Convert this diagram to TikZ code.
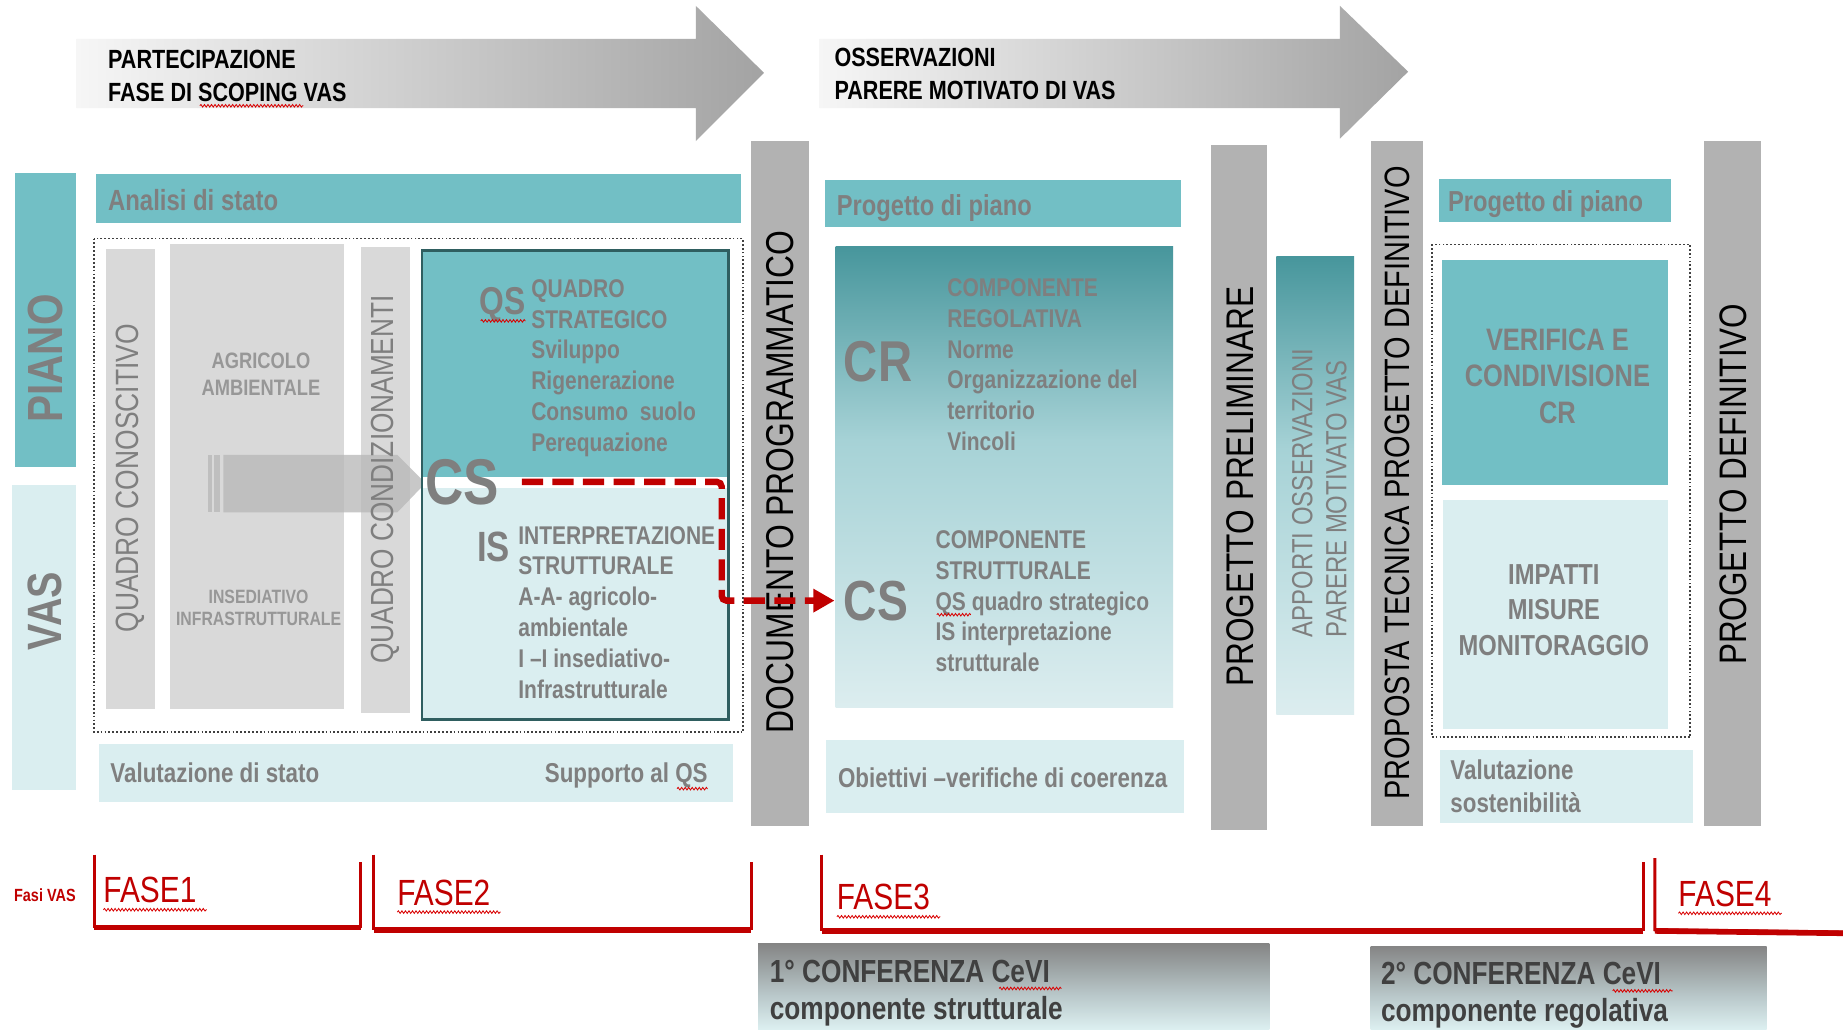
\documentclass[tikz,border=0pt]{standalone}
\usepackage{fontspec}
\setmainfont{Liberation Sans}
\newfontfamily\nfam[FakeStretch=0.82]{Liberation Sans}
\usetikzlibrary{decorations.pathmorphing,arrows.meta}
\definecolor{teal1}{HTML}{72BFC5}
\definecolor{lightc}{HTML}{DAEEF0}
\definecolor{colgray}{HTML}{B2B2B2}
\definecolor{lcol}{HTML}{D9D9D9}
\definecolor{tgray}{HTML}{7F7F7F}
\definecolor{agr}{HTML}{979797}
\definecolor{redc}{HTML}{C00000}
\definecolor{bord}{HTML}{2F5E60}
\definecolor{gtop}{HTML}{47969C}
\definecolor{gmid}{HTML}{A6D2D6}
\definecolor{gbot}{HTML}{DCEDEF}
\definecolor{ctop}{HTML}{858585}
\definecolor{cmid}{HTML}{B9C8CA}
\definecolor{cbot}{HTML}{DDF0F1}
\definecolor{darkt}{HTML}{404040}
\definecolor{arl}{HTML}{F6F6F6}
\definecolor{arr}{HTML}{A3A3A3}
\definecolor{bigar}{HTML}{B7B7B7}
\pgfdeclareverticalshading{tealgrad}{100bp}{color(0bp)=(gbot); color(25bp)=(gbot); color(54bp)=(gmid); color(75bp)=(gtop); color(100bp)=(gtop)}
\pgfdeclareverticalshading{confgrad}{100bp}{color(0bp)=(cbot); color(25bp)=(cbot); color(45bp)=(cmid); color(75bp)=(ctop); color(100bp)=(ctop)}
\tikzset{
  txt/.style={inner sep=0pt, outer sep=0pt, text=tgray},
  bl/.style={txt, anchor=base west},
  nb/.style={font={\nfam\bfseries\fontsize{#1}{#1}\selectfont}},
  nr/.style={font={\nfam\fontsize{#1}{#1}\selectfont}},
  nbl/.style n args={2}{font={\nfam\bfseries\fontsize{#1}{#2}\selectfont}},
  dotbox/.style={draw=black!75, line width=0.75pt, dash pattern=on 0.75pt off 0.9pt},
  sq/.style={draw=red!85!black, line width=0.35pt, decorate, decoration={snake, amplitude=0.55pt, segment length=1.5pt}},
  redbr/.style={draw=redc, line width=1.3pt},
}
\begin{document}
\begin{tikzpicture}[x=0.5pt,y=-0.5pt]
\useasboundingbox (0,0) rectangle (1568,876);
\fill[white] (0,0) rectangle (1568,876);
% top arrows
\shade[left color=arl, right color=arr] (65,33) -- (592,33) -- (592,5) -- (650,62) -- (592,120) -- (592,92) -- (65,92) -- cycle;
\shade[left color=arl, right color=arr] (697,33) -- (1140,33) -- (1140,5) -- (1198,61) -- (1140,118) -- (1140,92) -- (697,92) -- cycle;
\node[bl, text=black, nb=11.2] (part) at (92,58) {PARTECIPAZIONE};
\node[bl, text=black, nb=11.2] (scop) at (92,86) {FASE DI SCOPING VAS};
\draw[sq] (170,90) -- (258,90);
\node[bl, text=black, nb=11.2] (oss) at (710,57) {OSSERVAZIONI};
\node[bl, text=black, nb=11.2] (par) at (710,85) {PARERE MOTIVATO DI VAS};
% left PIANO / VAS
\fill[teal1] (13,147) rectangle (65,397);
\fill[lightc] (10,413) rectangle (65,672);
\node[txt, rotate=90, nb=21] (piano) at (39,305) {PIANO};
\node[txt, rotate=90, nb=20.5] (vas) at (38,520) {VAS};
% analisi bar
\fill[teal1] (82,148) rectangle (630,190);
\node[bl, nb=12.4] (analisi) at (92,179) {Analisi di stato};
% columns
\fill[lcol] (90,212) rectangle (132,603);
\fill[lcol] (145,208) rectangle (293,603);
\fill[lcol] (307,210) rectangle (349,607);
% big arrow
\fill[bigar, opacity=0.76] (177,387) rectangle (180,436);
\fill[bigar, opacity=0.76] (182,387) rectangle (187,436);
\fill[bigar, opacity=0.76] (190,387) -- (338,387) -- (362,411) -- (338,436) -- (190,436) -- cycle;
\node[txt, rotate=90, nr=13.7] (qcon) at (111,407) {QUADRO CONOSCITIVO};
\node[txt, rotate=90, nr=13.6] (qcond) at (328,408) {QUADRO CONDIZIONAMENTI};
\node[txt, text=agr, align=center, nbl={9.5}{11.5}] (agri) at (222,318) {AGRICOLO\\AMBIENTALE};
\node[txt, text=agr, align=center, nbl={8.2}{9.5}] (ins) at (220,517) {INSEDIATIVO\\INFRASTRUTTURALE};
% QS / IS box
\fill[teal1] (359,213) rectangle (620,406);
\fill[white] (359,406) rectangle (620,415);
\fill[lightc] (359,415) rectangle (620,612);
\draw[bord, line width=1.1pt] (359,213) rectangle (620,612);
\node[bl, nb=16.5] (qsbig) at (408,268) {QS};
\draw[sq] (409,273) -- (447,273);
\foreach \t [count=\i from 0] in {QUADRO,STRATEGICO,Sviluppo,Rigenerazione,{Consumo\ \ suolo},Perequazione}
  \node[bl, nb=10.9] (qsl\i) at (452,{253+26.2*\i}) {\t};
\node[bl, nb=27.5] (csL) at (362,429) {CS};
\node[bl, nb=18] (isbig) at (406,478) {IS};
\foreach \t [count=\i from 0] in {INTERPRETAZIONE,STRUTTURALE,A-A- agricolo-,ambientale,I –I insediativo-,Infrastrutturale}
  \node[bl, nb=10.9] (isl\i) at (441,{463+26.2*\i}) {\t};
\draw[dotbox] (80,203) rectangle (632,623);
% valutazione bar
\fill[lightc] (84,633) rectangle (624,682);
\node[bl, nb=11.6] (valst) at (94,666) {Valutazione di stato};
\node[txt, anchor=base east, nb=11.6] (supp) at (602,666) {Supporto al QS};
\draw[sq] (576,671) -- (602,671);
% documento programmatico
\fill[colgray] (639,120) rectangle (688,703);
\node[txt, rotate=90, text=black, nr=16.5] (doc) at (664,410) {DOCUMENTO PROGRAMMATICO};
% middle
\fill[teal1] (702,153) rectangle (1005,193);
\node[bl, nb=12.3] (pp1) at (712,183) {Progetto di piano};
\shade[shading=tealgrad] (711,210) rectangle (998,602);
\node[bl, nb=24.5] (crbig) at (718,325) {CR};
\foreach \t [count=\i from 0] in {COMPONENTE,REGOLATIVA,Norme,Organizzazione del,territorio,Vincoli}
  \node[bl, nb=10.9] (crl\i) at (806,{252+26.3*\i}) {\t};
\node[bl, nb=24] (csR) at (718,528) {CS};
\foreach \t [count=\i from 0] in {COMPONENTE,STRUTTURALE,QS quadro strategico,IS interpretazione,strutturale}
  \node[bl, nb=10.9] (csl\i) at (796,{467+26*\i}) {\t};
\draw[sq] (797,523) -- (826,523);
\fill[lightc] (703,630) rectangle (1007,692);
\node[bl, nb=11.6] (obi) at (713,670) {Obiettivi –verifiche di coerenza};
% progetto preliminare
\fill[colgray] (1030,123) rectangle (1078,706);
\node[txt, rotate=90, text=black, nr=16.4] (ppre) at (1055,414) {PROGETTO PRELIMINARE};
\shade[shading=tealgrad] (1086,218) rectangle (1152,608);
\node[txt, rotate=90, anchor=west, nr=12.4] (app1) at (1108,542) {APPORTI OSSERVAZIONI};
\node[txt, rotate=90, anchor=west, nr=12.4] (app2) at (1137,542) {PARERE MOTIVATO VAS};
% proposta tecnica
\fill[colgray] (1166,120) rectangle (1211,703);
\node[txt, rotate=90, text=black, nr=15] (prop) at (1189,411) {PROPOSTA TECNICA PROGETTO DEFINITIVO};
% right
\fill[teal1] (1224,152) rectangle (1422,189);
\node[bl, nb=12.3] (pp2) at (1232,180) {Progetto di piano};
\fill[teal1] (1227,221) rectangle (1419,413);
\node[txt, align=center, nbl={13.2}{15.5}] (verif) at (1325,320) {VERIFICA E\\CONDIVISIONE\\CR};
\fill[lightc] (1228,425) rectangle (1419,620);
\node[txt, align=center, nbl={12.3}{15}] (imp) at (1322,519) {IMPATTI\\MISURE\\MONITORAGGIO};
\draw[dotbox] (1218,208) rectangle (1438,627);
\fill[lightc] (1225,638) rectangle (1440,700);
\node[bl, nb=11.6] (valso1) at (1234,663) {Valutazione};
\node[bl, nb=11.6] (valso2) at (1234,691) {sostenibilità};
\fill[colgray] (1450,120) rectangle (1498,703);
\node[txt, rotate=90, text=black, nr=16.3] (pdef) at (1475,412) {PROGETTO DEFINITIVO};
% red dashed connector
\coordinate (d0) at (444,410);
\coordinate (d1) at (614,410);
\coordinate (d2) at (614,511);
\draw[redc, line width=2.7pt, dash pattern=on 9pt off 4pt, rounded corners=2pt, -{Triangle[length=9pt,width=9.5pt]}, shorten >=4pt] (d0) -- (d1) -- (d2) -- (csR.west |- d2);
% bottom phases
\node[bl, text=redc, nb=7.5] (fasi) at (12,767) {Fasi VAS};
\draw[redbr] (80,727) -- (80,788) -- (307,788) -- (307,733);
\draw[redc, line width=2.4pt] (80,789) -- (307,789);
\draw[redbr] (318,727) -- (318,790) -- (639,790) -- (639,733);
\draw[redc, line width=2.4pt] (318,791) -- (639,791);
\draw[redbr] (699,727) -- (699,791) -- (1398,791) -- (1398,733);
\draw[redc, line width=2.4pt] (699,792) -- (1398,792);
\draw[redbr] (1408,730) -- (1408,791) -- (1568,793);
\draw[redc, line width=2.4pt] (1408,792) -- (1568,794);
\node[bl, text=redc, nr=15.5] (f1) at (88,768) {FASE1};
\node[bl, text=redc, nr=15.5] (f2) at (338,770) {FASE2};
\node[bl, text=redc, nr=15.5] (f3) at (712,774) {FASE3};
\node[bl, text=redc, nr=15.5] (f4) at (1428,771) {FASE4};
\draw[sq] (88,774) -- (176,774);
\draw[sq] (338,776) -- (426,776);
\draw[sq] (712,780) -- (800,780);
\draw[sq] (1428,777) -- (1516,777);
% conferences
\shade[shading=confgrad] (645,803) rectangle (1080,876);
\shade[shading=confgrad] (1166,805) rectangle (1503,876);
\node[bl, text=darkt, nb=13.6] (c1a) at (655,836) {1° CONFERENZA CeVI};
\node[bl, text=darkt, nb=13.6] (c1b) at (655,867) {componente strutturale};
\node[bl, text=darkt, nb=13.6] (c2a) at (1175,838) {2° CONFERENZA CeVI};
\node[bl, text=darkt, nb=13.6] (c2b) at (1175,869) {componente regolativa};
\draw[sq] (850,841) -- (903,841);
\draw[sq] (1372,843) -- (1423,843);
\end{tikzpicture}
\end{document}
